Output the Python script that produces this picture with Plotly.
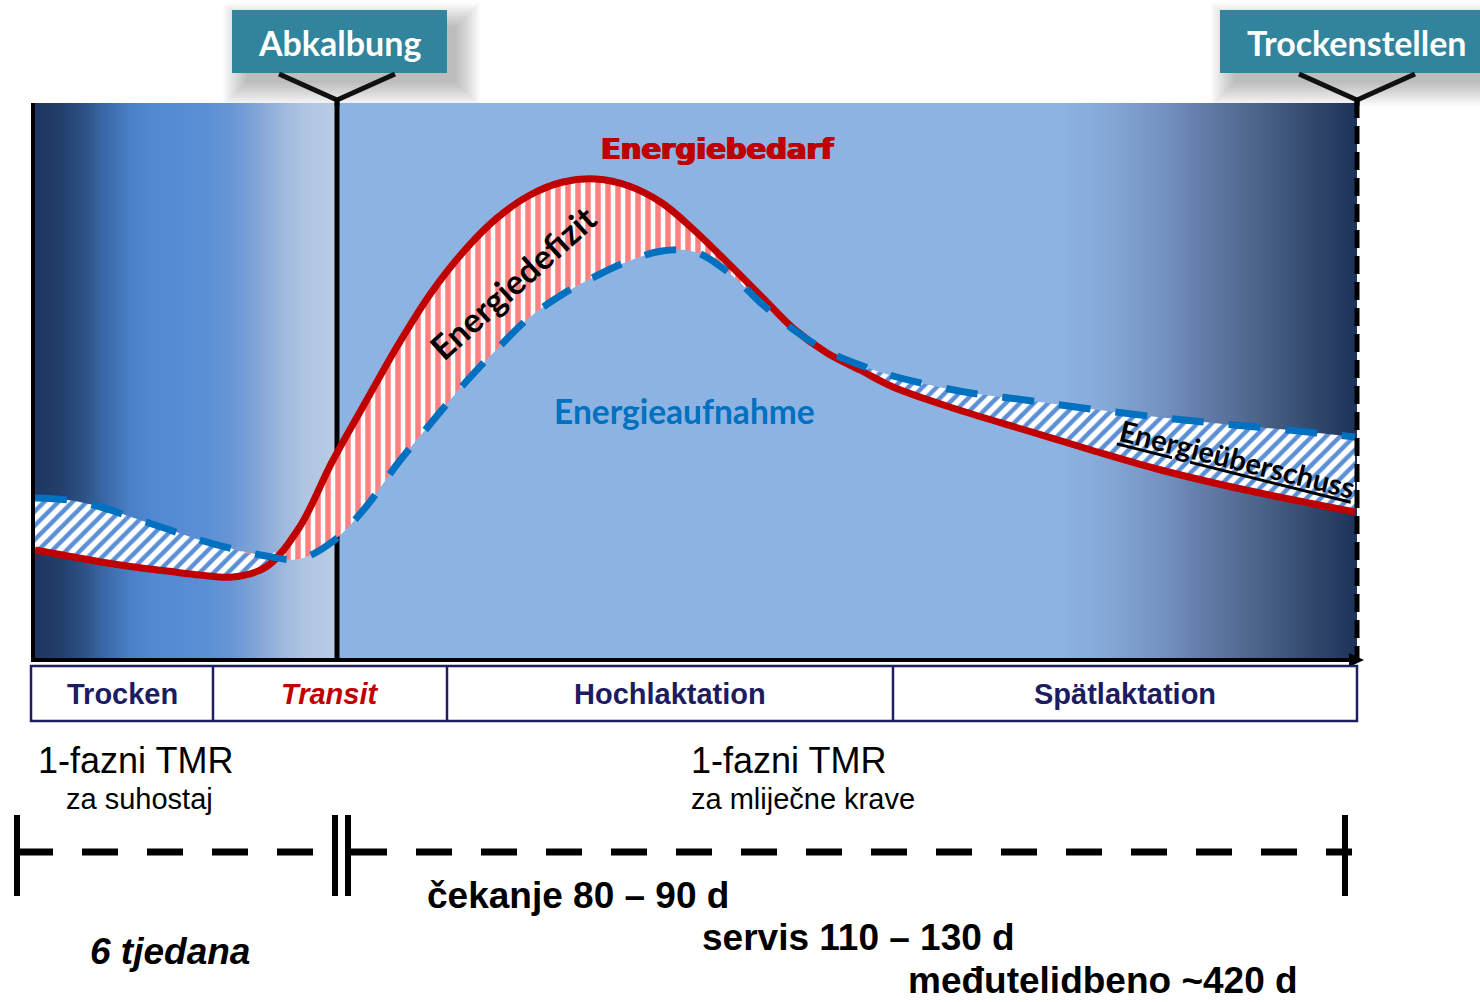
import numpy as np
import plotly.graph_objects as go

# ---------------- data (schematic units) ----------------
# x: schematic time across the cycle (0 = left edge of chart, 1324 = dry-off)
time_x = [2, 35, 68, 101, 134, 167, 200, 233, 266, 299, 332, 365, 398, 431, 464, 497, 530,
          563, 596, 629, 662, 695, 728, 761, 794, 827, 860, 926, 992, 1058, 1124, 1190, 1256, 1322]
# Energiebedarf (energy demand)
energy_demand = [110, 104, 98, 93, 89, 85, 83, 93, 132, 198, 257, 315, 367, 409, 442, 465,
                 478, 481, 474, 457, 429, 397, 364, 331, 307, 290, 273, 250, 230, 210, 191,
                 175, 161, 148]
# Energieaufnahme (energy intake)
energy_intake = [162, 160, 153, 142, 131, 120, 111, 104, 101, 118, 152, 197, 237, 276, 311, 343,
                 366, 384, 399, 409, 408, 388, 357, 330, 309, 295, 284, 269, 260, 251, 243,
                 236, 230, 223]

calving_x = 304      # Abkalbung
dry_off_x = 1324     # Trockenstellen
X_MAX, Y_MAX = 1324, 557

# background gradient stops (position along x, colour)
bg_pos = [0, 27, 52, 72, 97, 122, 172, 197, 222, 247, 272, 303, 304, 1027, 1077, 1127, 1177, 1227, 1277, 1324]
bg_col = ["#1c3660", "#223f6a", "#2d5287", "#3b69a8", "#4a80c6", "#5289d2", "#5b8fd5", "#6795d4",
          "#80a4d8", "#9bb6dd", "#b0c5e2", "#b8cce5", "#8db3e2", "#8db3e2", "#84a7d6", "#7593c2",
          "#6079a5", "#4b6389", "#34496e", "#1c335a"]

phase_names = ["<b>Trocken</b>", "<b><i>Transit</i></b>", "<b>Hochlaktation</b>", "<b>Spätlaktation</b>"]
phase_colors = ["#1c1c5e", "#c00000", "#1c1c5e", "#1c1c5e"]
phase_edges = [31, 213, 447, 893, 1357]   # pixel edges of the phase table

# ---------------- layout helpers ----------------
W, H = 1480, 1002
L, R, T, B = 33, 1357, 103, 660


def fx(p):
    return (p - L) / (R - L)


def fy(p):
    return (B - p) / (B - T)


ARIAL = "Liberation Sans, Arial, sans-serif"
CAL = "Lato, Calibri, sans-serif"
RED = "#c00000"
BLUE = "#0070c0"

fig = go.Figure()

# background gradient as heatmap
edges = np.arange(0, X_MAX + 1, 2)
centers = (edges[:-1] + edges[1:]) / 2
cs = [[p / X_MAX, c] for p, c in zip(bg_pos, bg_col)]
fig.add_trace(go.Heatmap(z=[centers], x=edges, y=[0, Y_MAX], zmin=0, zmax=X_MAX,
                         colorscale=cs, showscale=False, hoverinfo="skip", zsmooth=False))

# calving line (below fills)
fig.add_trace(go.Scatter(x=[calving_x, calving_x], y=[0, Y_MAX], mode="lines",
                         line=dict(color="black", width=5), hoverinfo="skip", showlegend=False))

upper = np.maximum(np.array(energy_demand), np.array(energy_intake)).tolist()

# blue hatch: where intake > demand
fig.add_trace(go.Scatter(x=time_x, y=energy_demand, mode="lines", line=dict(width=0, shape="spline"),
                         hoverinfo="skip", showlegend=False))
fig.add_trace(go.Scatter(x=time_x, y=upper, mode="lines", line=dict(width=0, shape="spline"),
                         fill="tonexty", fillcolor="white",
                         fillpattern=dict(shape="/", fgcolor="#5b8fd6", bgcolor="white", size=10,
                                          solidity=0.45, fillmode="replace"),
                         hoverinfo="skip", showlegend=False))
# red stripes: where demand > intake
fig.add_trace(go.Scatter(x=time_x, y=energy_intake, mode="lines", line=dict(width=0, shape="spline"),
                         hoverinfo="skip", showlegend=False))
fig.add_trace(go.Scatter(x=time_x, y=upper, mode="lines", line=dict(width=0, shape="spline"),
                         fill="tonexty", fillcolor="white",
                         fillpattern=dict(shape="|", fgcolor="#ff8080", bgcolor="white", size=10,
                                          solidity=0.55, fillmode="replace"),
                         hoverinfo="skip", showlegend=False))

# curves
fig.add_trace(go.Scatter(x=time_x, y=energy_demand, mode="lines", name="Energiebedarf",
                         line=dict(color=RED, width=7, shape="spline"), showlegend=False))
fig.add_trace(go.Scatter(x=time_x, y=energy_intake, mode="lines", name="Energieaufnahme",
                         line=dict(color=BLUE, width=7, shape="spline", dash="32px,25px"),
                         showlegend=False))

shapes = []
ann = []


def line(x0, y0, x1, y1, width=4, color="black", dash=None, layer="above"):
    d = dict(type="line", xref="paper", yref="paper", x0=fx(x0), y0=fy(y0), x1=fx(x1), y1=fy(y1),
             line=dict(color=color, width=width), layer=layer)
    if dash:
        d["line"]["dash"] = dash
    shapes.append(d)


def rect(x0, y0, x1, y1, fill=None, lc=None, lw=0, layer="above"):
    shapes.append(dict(type="rect", xref="paper", yref="paper", x0=fx(x0), y0=fy(y0), x1=fx(x1),
                       y1=fy(y1), fillcolor=fill if fill else "rgba(0,0,0,0)",
                       line=dict(color=lc if lc else "rgba(0,0,0,0)", width=lw), layer=layer))


def text(x, y, s, size, color="black", family=ARIAL, xanchor="left", angle=0, weight=None, shadow=None):
    f = dict(family=family, size=size, color=color)
    if weight:
        f["weight"] = weight
    if shadow:
        f["shadow"] = shadow
    ann.append(dict(x=fx(x), y=fy(y), xref="paper", yref="paper", text=s, showarrow=False,
                    xanchor=xanchor, yanchor="middle", textangle=angle, font=f))


# axes
line(33, 103, 33, 662, width=4)
line(31, 660, 1352, 660, width=4)
shapes.append(dict(type="path", xref="paper", yref="paper",
                   path=f"M {fx(1349)},{fy(653)} L {fx(1364)},{fy(660)} L {fx(1349)},{fy(667)} Z",
                   fillcolor="black", line=dict(width=0)))
# dry-off dashed line
line(1357, 100, 1357, 660, width=5, dash="18px,8px")


# label boxes with soft shadow and Y connector
def label_box(x0, x1, cx):
    for k in range(10):
        e = k * 2.5
        rect(x0 + 14 - e, 10 + 16 - e, x1 + 10 + e, 73 + 10 + e, fill="rgba(0,0,0,0.028)", layer="below")
    rect(x0, 10, x1, 73, fill="#31849b", layer="above")
    line(cx - 58, 74, cx, 100, width=5, color="#111111")
    line(cx + 58, 74, cx, 100, width=5, color="#111111")
    line(cx, 98, cx, 106, width=5, color="black")


label_box(232, 447, 337)
label_box(1220, 1520, 1357)
text(339, 42, "<b>Abkalbung</b>", 34, color="white", family=CAL, xanchor="center")
text(1357, 42, "<b>Trockenstellen</b>", 34, color="white", family=CAL, xanchor="center")

# curve labels
text(717, 149, "<b>Energiebedarf</b>", 29, color=RED, family="DejaVu Sans, Arial Black, sans-serif",
     xanchor="center", shadow="1px 0px 0px #c00000, -1px 0px 0px #c00000")
text(684, 411, "<b>Energieaufnahme</b>", 33.5, color=BLUE, family=CAL, xanchor="center")
text(512, 282, "<b>Energiedefizit</b>", 34, color="black", family=CAL, xanchor="center", angle=-42)
text(1237, 458, "<b><u>Energieüberschuss</u></b>", 29, color="black", family=CAL, xanchor="center", angle=14)

# phase table
rect(31, 666, 1357, 721, lc="#1f1f5f", lw=2.5)
for e in phase_edges[1:-1]:
    line(e, 666, e, 721, width=2.5, color="#1f1f5f")
for i, name in enumerate(phase_names):
    cx = (phase_edges[i] + phase_edges[i + 1]) / 2
    text(cx, 694, name, 29, color=phase_colors[i], xanchor="center")

# feeding texts
text(36, 760, "1-fazni TMR", 36)
text(64, 799, "za suhostaj", 29)
text(689, 760, "1-fazni TMR", 36)
text(689, 799, "za mliječne krave", 29)

# timeline
TL_Y = 852
line(17, TL_Y, 315, TL_Y, width=7, dash="36px,29px")
line(351, TL_Y, 1352, TL_Y, width=7, dash="36px,29px")
for bx in [17, 335, 348, 1345]:
    line(bx, 815, bx, 896, width=6)

text(425, 895, "<b>čekanje 80 – 90 d</b>", 37)
text(700, 937, "<b>servis 110 – 130 d</b>", 37)
text(906, 980, "<b>međutelidbeno ~420 d</b>", 37)
text(88, 951, "<b><i>6 tjedana</i></b>", 37)

fig.update_layout(
    width=W, height=H,
    margin=dict(l=L, r=W - R, t=T, b=H - B, pad=0),
    paper_bgcolor="white", plot_bgcolor="white",
    xaxis=dict(range=[0, X_MAX], visible=False, fixedrange=True),
    yaxis=dict(range=[0, Y_MAX], visible=False, fixedrange=True),
    shapes=shapes, annotations=ann, showlegend=False,
)

fig.write_html("out.html")
